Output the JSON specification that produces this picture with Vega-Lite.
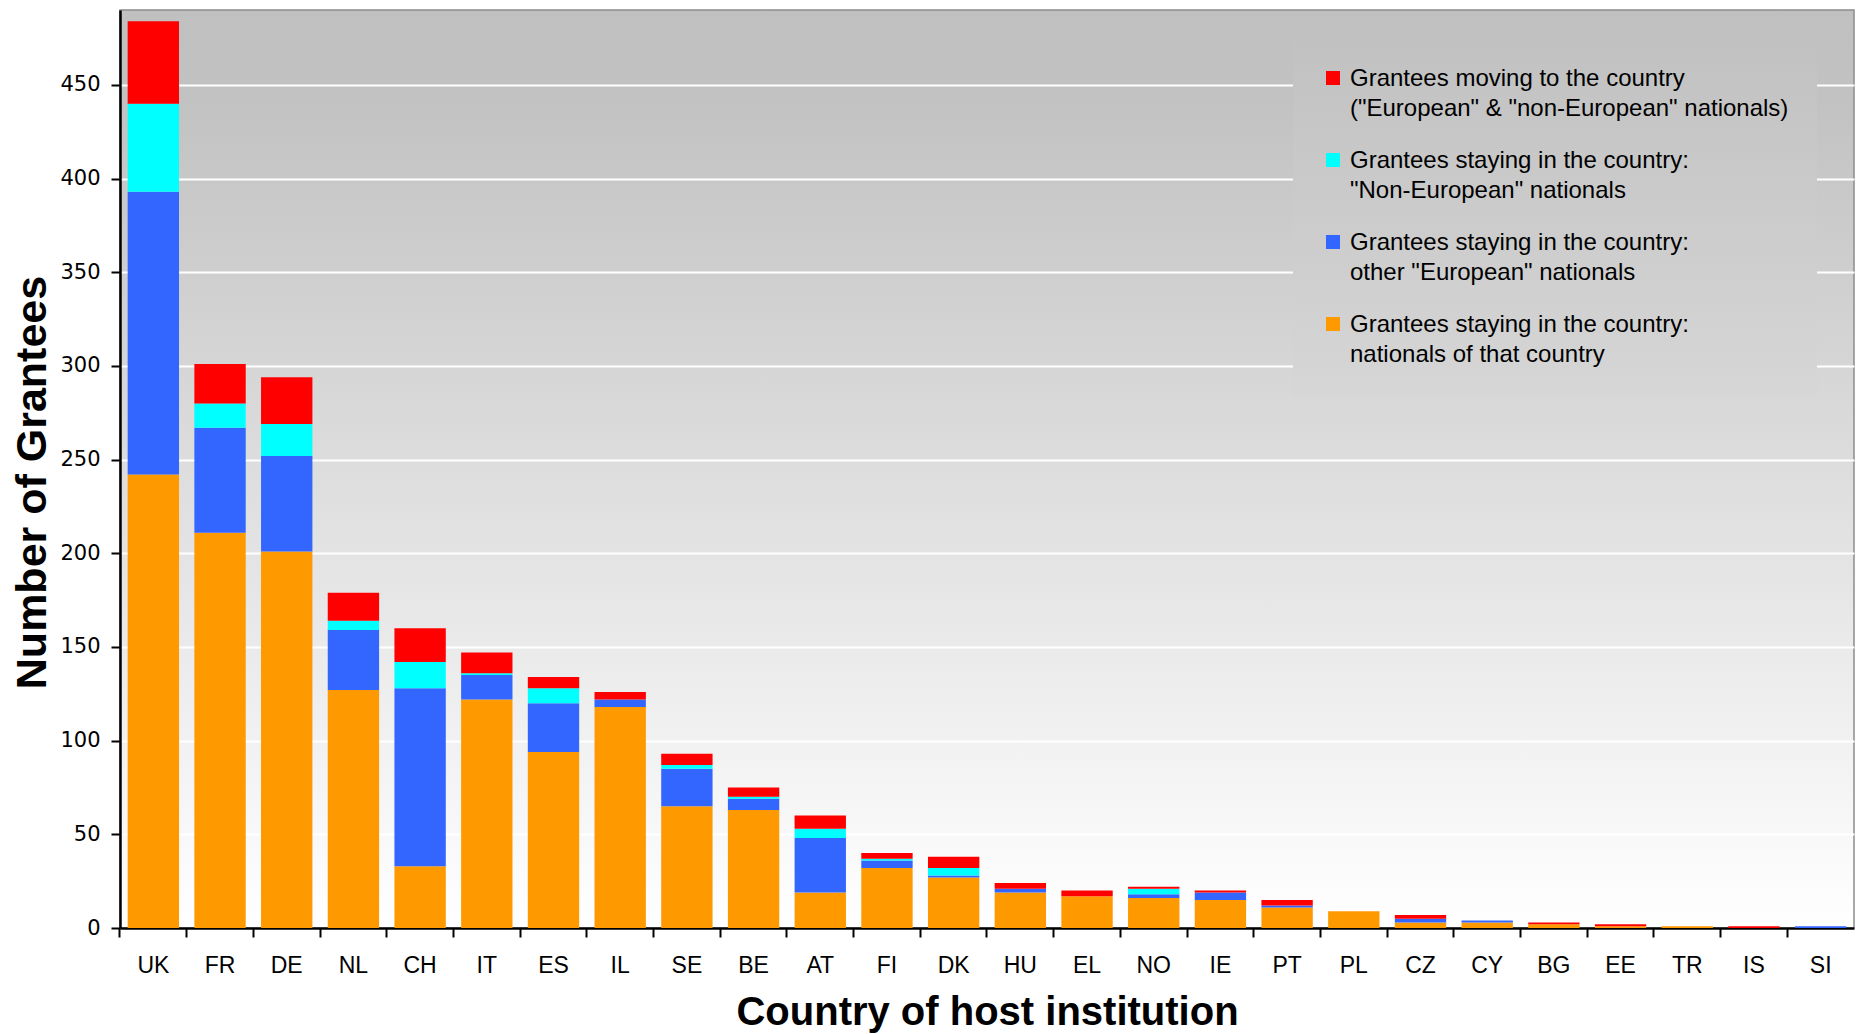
{
  "$schema": "https://vega.github.io/schema/vega-lite/v6.json",
  "width": 1734,
  "height": 918,
  "autosize": {"type": "none"},
  "padding": {"left": 120, "top": 10, "right": 4, "bottom": 106},
  "background": "white",
  "datasets": {
    "series": [
      {"code": "nat", "k": 1, "label": "Grantees staying in the country:|nationals of that country"},
      {"code": "eur", "k": 2, "label": "Grantees staying in the country:|other \"European\" nationals"},
      {"code": "noneur", "k": 3, "label": "Grantees staying in the country:|\"Non-European\" nationals"},
      {"code": "mov", "k": 4, "label": "Grantees moving to the country|(\"European\" & \"non-European\" nationals)"}
    ]
  },
  "data": {
    "values": [
      {"country": "UK", "nat": 242, "eur": 151, "noneur": 47, "mov": 44},
      {"country": "FR", "nat": 211, "eur": 56, "noneur": 13, "mov": 21},
      {"country": "DE", "nat": 201, "eur": 51, "noneur": 17, "mov": 25},
      {"country": "NL", "nat": 127, "eur": 32, "noneur": 5, "mov": 15},
      {"country": "CH", "nat": 33, "eur": 95, "noneur": 14, "mov": 18},
      {"country": "IT", "nat": 122, "eur": 13, "noneur": 1, "mov": 11},
      {"country": "ES", "nat": 94, "eur": 26, "noneur": 8, "mov": 6},
      {"country": "IL", "nat": 118, "eur": 4, "noneur": 0, "mov": 4},
      {"country": "SE", "nat": 65, "eur": 20, "noneur": 2, "mov": 6},
      {"country": "BE", "nat": 63, "eur": 6, "noneur": 1, "mov": 5},
      {"country": "AT", "nat": 19, "eur": 29, "noneur": 5, "mov": 7},
      {"country": "FI", "nat": 32, "eur": 4, "noneur": 1, "mov": 3},
      {"country": "DK", "nat": 27, "eur": 1, "noneur": 4, "mov": 6},
      {"country": "HU", "nat": 19, "eur": 2, "noneur": 0, "mov": 3},
      {"country": "EL", "nat": 17, "eur": 0, "noneur": 0, "mov": 3},
      {"country": "NO", "nat": 16, "eur": 2, "noneur": 3, "mov": 1},
      {"country": "IE", "nat": 15, "eur": 4, "noneur": 0, "mov": 1},
      {"country": "PT", "nat": 11, "eur": 1, "noneur": 0, "mov": 3},
      {"country": "PL", "nat": 9, "eur": 0, "noneur": 0, "mov": 0},
      {"country": "CZ", "nat": 3, "eur": 2, "noneur": 0, "mov": 2},
      {"country": "CY", "nat": 3, "eur": 1, "noneur": 0, "mov": 0},
      {"country": "BG", "nat": 2, "eur": 0, "noneur": 0, "mov": 1},
      {"country": "EE", "nat": 1, "eur": 0, "noneur": 0, "mov": 1},
      {"country": "TR", "nat": 1, "eur": 0, "noneur": 0, "mov": 0},
      {"country": "IS", "nat": 0, "eur": 0, "noneur": 0, "mov": 1},
      {"country": "SI", "nat": 0, "eur": 1, "noneur": 0, "mov": 0}
    ]
  },
  "transform": [
    {"fold": ["nat", "eur", "noneur", "mov"], "as": ["code", "value"]},
    {"filter": "datum.value > 0"},
    {"lookup": "code", "from": {"data": {"name": "series"}, "key": "code", "fields": ["label", "k"]}}
  ],
  "mark": {"type": "bar"},
  "encoding": {
    "x": {
      "field": "country",
      "type": "nominal",
      "sort": null,
      "scale": {"paddingInner": 0.23, "paddingOuter": 0.115},
      "axis": {
        "title": "Country of host institution",
        "titleFont": "Liberation Sans",
        "titleFontWeight": "bold",
        "titleFontSize": 40,
        "titleColor": "black",
        "titlePadding": 15,
        "labelFont": "Liberation Sans",
        "labelFontSize": 23,
        "labelColor": "black",
        "labelAngle": 0,
        "labelPadding": 17,
        "tickSize": 9,
        "tickColor": "black",
        "tickWidth": 2,
        "domainColor": "black",
        "domainWidth": 2.5,
        "bandPosition": -0.15,
        "grid": false
      }
    },
    "y": {
      "field": "value",
      "type": "quantitative",
      "stack": "zero",
      "scale": {"domain": [0, 490], "nice": false},
      "axis": {
        "title": "Number of Grantees",
        "titleFont": "Liberation Sans",
        "titleFontWeight": "bold",
        "titleFontSize": 43,
        "titleColor": "black",
        "titlePadding": 5,
        "titleY": 472,
        "labelFont": "DejaVu Sans",
        "labelFontSize": 21,
        "labelColor": "black",
        "labelPadding": 11,
        "tickSize": 9,
        "tickColor": "black",
        "tickWidth": 2,
        "domainColor": "black",
        "domainWidth": 2.5,
        "values": [0, 50, 100, 150, 200, 250, 300, 350, 400, 450],
        "grid": true,
        "gridColor": "white",
        "gridWidth": 2
      }
    },
    "color": {
      "field": "label",
      "type": "nominal",
      "scale": {
        "domain": [
          "Grantees moving to the country|(\"European\" & \"non-European\" nationals)",
          "Grantees staying in the country:|\"Non-European\" nationals",
          "Grantees staying in the country:|other \"European\" nationals",
          "Grantees staying in the country:|nationals of that country"
        ],
        "range": ["#FF0000", "#00FFFF", "#3366FF", "#FF9900"]
      },
      "legend": {
        "orient": "none",
        "legendX": 1173,
        "legendY": 28,
        "title": null,
        "padding": 28,
        "symbolType": "square",
        "symbolSize": 196,
        "symbolStrokeWidth": 0,
        "labelFont": "Liberation Sans",
        "labelFontSize": 24,
        "labelColor": "black",
        "labelLimit": 700,
        "labelOffset": 5,
        "rowPadding": 27,
        "labelBaseline": "top",
        "labelExpr": "split(datum.label, '|')",
        "encode": {
          "legend": {"update": {"fill": {"value": {"gradient": "linear", "x1": 0, "y1": 0, "x2": 0, "y2": 1, "stops": [{"offset": 0, "color": "#c1c1c1"}, {"offset": 1, "color": "#d6d6d6"}]}}}},
          "labels": {"update": {"lineHeight": {"value": 30}, "dy": {"value": -11}}}
        }
      }
    },
    "order": {"field": "k", "type": "quantitative", "sort": "ascending"}
  },
  "config": {
    "font": "Liberation Sans",
    "view": {
      "stroke": "#8c8c8c",
      "strokeWidth": 1.5,
      "fill": {"gradient": "linear", "x1": 0, "y1": 0, "x2": 0, "y2": 1, "stops": [{"offset": 0, "color": "#c0c0c0"}, {"offset": 0.1, "color": "#c2c2c2"}, {"offset": 1, "color": "#ffffff"}]}
    }
  }
}
